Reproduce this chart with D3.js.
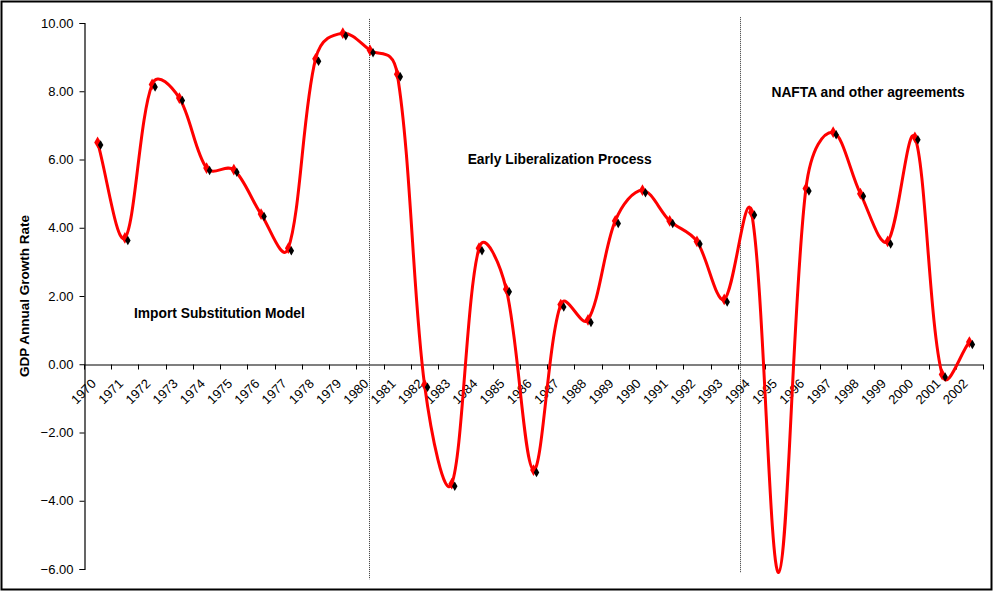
<!DOCTYPE html>
<html>
<head>
<meta charset="utf-8">
<script src="https://cdn.jsdelivr.net/npm/d3@7"></script>
<style>
  html, body { margin: 0; padding: 0; background: #fff; }
  svg { display: block; font-family: "Liberation Sans", Arial, sans-serif; }
</style>
</head>
<body>
<svg id="chart" width="994" height="591"></svg>
<script>
const years = ["1970","1971","1972","1973","1974","1975","1976","1977","1978","1979","1980",
  "1981","1982","1983","1984","1985","1986","1987","1988","1989","1990","1991","1992","1993",
  "1994","1995","1996","1997","1998","1999","2000","2001","2002"];
const gdpGrowth = [6.5, 3.7, 8.2, 7.8, 5.75, 5.7, 4.4, 3.4, 8.95, 9.7, 9.2,
  8.5, -0.6, -3.5, 3.4, 2.2, -3.1, 1.75, 1.3, 4.2, 5.1, 4.2, 3.6, 1.9,
  4.45, -6.1, 5.15, 6.8, 5.0, 3.6, 6.65, -0.3, 0.65];
const yTicks = [-6, -4, -2, 0, 2, 4, 6, 8, 10];
const yTitle = "GDP Annual Growth Rate";
const periodLabels = ["Import Substitution Model", "Early Liberalization Process", "NAFTA and other agreements"];
const periodLabelAt = [[4.97, 1.35], [17.46, 5.87], [28.78, 7.82]];   // [category position, value]
const dividerAt = [10.46, 24.08];       // category position of the dotted separators
const dividerTop = [10.12, 10.17];
const dividerBottom = [-6.3, -6.12];

const svg = d3.select("#chart");

svg.append("rect").attr("x", 1.5).attr("y", 1.5).attr("width", 990).attr("height", 588)
  .attr("fill", "#fff").attr("stroke", "#000").attr("stroke-width", 2);

const x = d3.scaleBand().domain(years).range([84, 983]).padding(0);
const xc = d => x(d) + x.bandwidth() / 2;
const xPos = p => 84 + p * x.step();
const y = d3.scaleLinear().domain([-6, 10]).range([569, 23]);

// y axis
const yAxis = d3.axisLeft(y).tickValues(yTicks).tickFormat(d3.format(".2f")).tickSize(5).tickPadding(6);
const gy = svg.append("g").attr("transform", "translate(84.5,0)").call(yAxis);
gy.select(".domain").attr("stroke", "#000").attr("stroke-width", 1.2);
gy.selectAll(".tick line").attr("stroke", "#000");
gy.selectAll(".tick text").attr("font-size", 13).attr("fill", "#000")
  .attr("font-family", "Liberation Sans, Arial, sans-serif");

// x axis at zero
const xAxis = d3.axisBottom(x).tickSize(0).tickFormat("");
const gx = svg.append("g").attr("transform", `translate(0,${Math.round(y(0)) + 0.5})`).call(xAxis);
gx.select(".domain").attr("stroke", "#000").attr("stroke-width", 1.2);
const bounds = d3.range(years.length + 1);
gx.selectAll(".btick").data(bounds).enter().append("line")
  .attr("x1", d => Math.round(xPos(d)) + 0.5).attr("x2", d => Math.round(xPos(d)) + 0.5)
  .attr("y1", 0).attr("y2", 5).attr("stroke", "#000");
svg.append("g").selectAll("text").data(years).enter().append("text")
  .attr("transform", d => `translate(${xc(d) - 4},${y(0) + 17}) rotate(-45)`)
  .attr("text-anchor", "end").attr("dy", "0.35em")
  .attr("font-size", 13).attr("fill", "#000")
  .text(d => d);

// y title
svg.append("text")
  .attr("transform", `translate(28.5,${(y(10) + y(-6)) / 2}) rotate(-90)`)
  .attr("text-anchor", "middle").attr("font-size", 13.5).attr("font-weight", "bold")
  .text(yTitle);

// dividers
svg.append("g").selectAll("line").data(dividerAt).enter().append("line")
  .attr("x1", d => Math.round(xPos(d)) + 0.5).attr("x2", d => Math.round(xPos(d)) + 0.5)
  .attr("y1", (d, i) => y(dividerTop[i])).attr("y2", (d, i) => y(dividerBottom[i]))
  .attr("stroke", "#333").attr("stroke-width", 1).attr("stroke-dasharray", "1,1");

// period labels
svg.append("g").selectAll("text").data(periodLabels).enter().append("text")
  .attr("x", (d, i) => xPos(periodLabelAt[i][0]))
  .attr("y", (d, i) => y(periodLabelAt[i][1]))
  .attr("text-anchor", "middle").attr("font-size", 13.8).attr("font-weight", "bold")
  .attr("fill", "#000")
  .text(d => d);

// Excel-style smoothed line (distance-weighted Bezier tangents)
const data = years.map((yr, i) => ({ yr, v: gdpGrowth[i] }));
const pts = data.map(d => [xc(d.yr), y(d.v)]);
const dist = (a, b) => Math.sqrt(Math.hypot(b[0] - a[0], b[1] - a[1]));
const p = d3.path();
p.moveTo(pts[0][0], pts[0][1]);
for (let i = 0; i < pts.length - 1; i++) {
  const P0 = pts[Math.max(0, i - 1)], P1 = pts[i], P2 = pts[i + 1], P3 = pts[Math.min(pts.length - 1, i + 2)];
  const d01 = dist(P0, P1), d12 = dist(P1, P2), d23 = dist(P2, P3);
  const f1 = (d01 + d12) > 0 ? d12 / (d01 + d12) / 3 : 0;
  const f2 = (d12 + d23) > 0 ? d12 / (d12 + d23) / 3 : 0;
  const c1 = [P1[0] + (P2[0] - P0[0]) * f1, P1[1] + (P2[1] - P0[1]) * f1];
  const c2 = [P2[0] - (P3[0] - P1[0]) * f2, P2[1] - (P3[1] - P1[1]) * f2];
  p.bezierCurveTo(c1[0], c1[1], c2[0], c2[1], P2[0], P2[1]);
}
svg.append("path").attr("d", p.toString())
  .attr("fill", "none").attr("stroke", "#ff0000").attr("stroke-width", 3).attr("stroke-linejoin", "round");

const diamond = d3.symbol().type(d3.symbolDiamond);
const shown = data.filter(d => d.v >= y.domain()[0]);
svg.append("g").selectAll("path").data(shown).enter().append("path")
  .attr("d", diamond.size(40))
  .attr("transform", d => `translate(${xc(d.yr)},${y(d.v)})`)
  .attr("fill", "#ff0000");
svg.append("g").selectAll("path").data(shown).enter().append("path")
  .attr("d", diamond.size(26))
  .attr("transform", d => `translate(${xc(d.yr) + 3},${y(d.v) + 2.5})`)
  .attr("fill", "#000");
</script>
</body>
</html>
